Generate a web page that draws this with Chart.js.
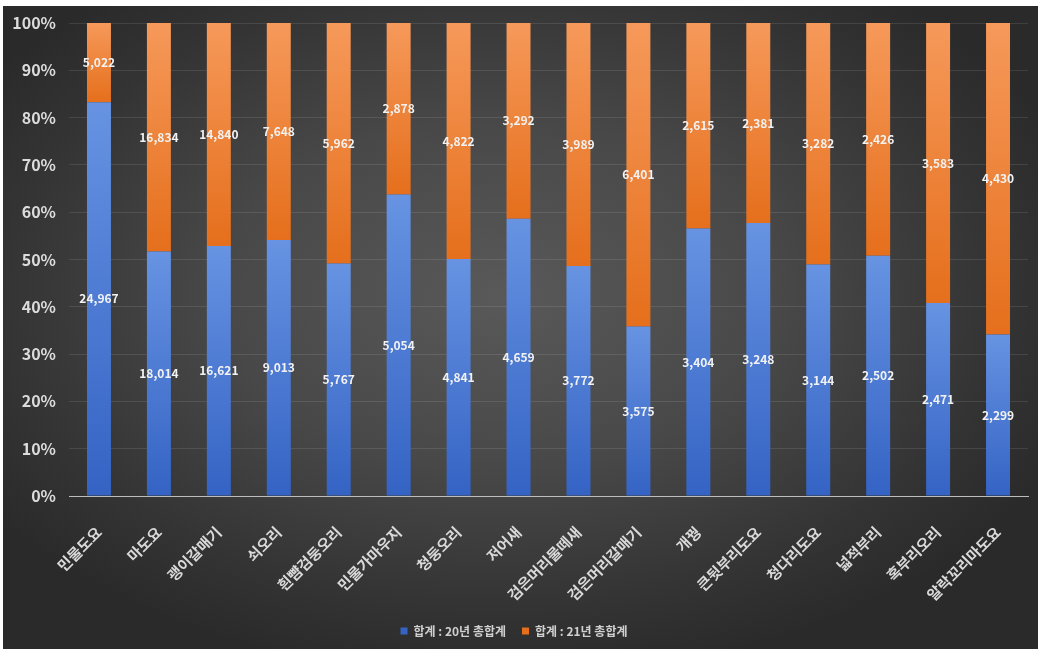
<!DOCTYPE html>
<html>
  <head>
    <meta charset="utf-8">
    <title>철새 개체수 비교</title>
    <script src="https://cdn.jsdelivr.net/npm/chart.js"></script>
    <style>
      body { margin: 0; background: #fff; }
      #bg {
        position: absolute; left: 3px; top: 6px; width: 1035px; height: 643px;
        background: radial-gradient(ellipse 60% 60% at 48% 45%, #595959 0%, #484848 45%, #343434 80%, #2a2a2a 100%);
      }
      #chart { position: absolute; left: 0; top: 0; }
    </style>
  </head>
  <body>
    <div id="bg"></div>
    <canvas id="chart" width="1038" height="649"></canvas>

    <script>
      // categories and raw totals
      const categories = ['민물도요', '마도요', '괭이갈매기', '쇠오리', '흰뺨검둥오리', '민물가마우지', '청둥오리', '저어새',
        '검은머리물떼새', '검은머리갈매기', '개꿩', '큰뒷부리도요', '청다리도요', '넓적부리', '혹부리오리', '알락꼬리마도요'];
      const total20 = [24967, 18014, 16621, 9013, 5767, 5054, 4841, 4659, 3772, 3575, 3404, 3248, 3144, 2502, 2471, 2299];
      const total21 = [5022, 16834, 14840, 7648, 5962, 2878, 4822, 3292, 3989, 6401, 2615, 2381, 3282, 2426, 3583, 4430];
      const seriesNames = ['합계 : 20년 총합계', '합계 : 21년 총합계'];
      const yTicks = [0, 10, 20, 30, 40, 50, 60, 70, 80, 90, 100];

      // 100% stacked: share of each year per category
      const pct20 = total20.map((v, i) => v / (v + total21[i]) * 100);
      const pct21 = total21.map((v, i) => v / (total20[i] + v) * 100);
      const rawValues = [total20, total21];

      const blue = ['#6793e2', '#3463c4'];
      const orange = ['#f6995a', '#e56f1c'];

      // vertical gradient for each segment
      const segGradient = (ctx, colors) => {
        const chart = ctx.chart;
        if (!chart.chartArea || ctx.type !== 'data') return colors[1];
        const y = chart.scales.y;
        const i = ctx.dataIndex;
        const lo = ctx.datasetIndex === 0 ? 0 : pct20[i];
        const hi = ctx.datasetIndex === 0 ? pct20[i] : 100;
        const g = chart.ctx.createLinearGradient(0, y.getPixelForValue(hi), 0, y.getPixelForValue(lo));
        g.addColorStop(0, colors[0]);
        g.addColorStop(1, colors[1]);
        return g;
      };

      // value labels in the middle of each segment
      const valueLabels = {
        id: 'valueLabels',
        afterDatasetsDraw(chart) {
          const c = chart.ctx;
          c.save();
          c.font = 'bold 12px "Noto Sans CJK KR", "Noto Sans", sans-serif';
          c.fillStyle = '#f2f2f2';
          c.textAlign = 'center';
          c.textBaseline = 'middle';
          chart.data.datasets.forEach((ds, d) => {
            chart.getDatasetMeta(d).data.forEach((bar, i) => {
              c.fillText(rawValues[d][i].toLocaleString('en-US'), bar.x, (bar.y + bar.base) / 2);
            });
          });
          c.restore();
        }
      };

      const solid = [blue[1], orange[1]];

      new Chart(document.getElementById('chart'), {
        type: 'bar',
        data: {
          labels: categories,
          datasets: [
            { label: seriesNames[0], data: pct20, backgroundColor: ctx => segGradient(ctx, blue) },
            { label: seriesNames[1], data: pct21, backgroundColor: ctx => segGradient(ctx, orange) },
          ],
        },
        options: {
          responsive: false,
          animation: false,
          barPercentage: 0.4,
          categoryPercentage: 1,
          layout: { padding: { left: 0, top: 23, right: 10, bottom: 2 } },
          plugins: {
            tooltip: { enabled: false },
            legend: {
              position: 'bottom',
              labels: {
                color: '#d0d0d0',
                font: { size: 12, weight: 'bold', family: '"Noto Sans CJK KR", sans-serif' },
                boxWidth: 7,
                boxHeight: 7,
                padding: 16,
                generateLabels: chart => chart.data.datasets.map((ds, i) => ({
                  text: ds.label, fillStyle: solid[i], strokeStyle: solid[i], lineWidth: 0,
                  fontColor: '#d0d0d0', datasetIndex: i,
                })),
              },
            },
          },
          scales: {
            x: {
              stacked: true,
              grid: { display: false },
              border: { color: '#bdbdbd', width: 1 },
              ticks: {
                color: '#d9d9d9',
                font: { size: 15, weight: 'bold', family: '"Noto Sans CJK KR", sans-serif' },
                minRotation: 45,
                maxRotation: 45,
                padding: 19,
              },
              afterFit: scale => { scale.height = 113; },
            },
            y: {
              stacked: true,
              min: 0,
              max: 100,
              afterBuildTicks: scale => { scale.ticks = yTicks.map(v => ({ value: v })); },
              grid: { color: 'rgba(255,255,255,0.10)', drawTicks: false },
              border: { display: false },
              ticks: {
                color: '#dcdcdc',
                font: { size: 16, weight: 'bold', family: '"Noto Sans CJK KR", sans-serif' },
                padding: 13,
                callback: v => v + '%',
              },
              afterFit: scale => { scale.width = 69; },
            },
          },
        },
        plugins: [valueLabels],
      });
    </script>
  </body>
</html>
